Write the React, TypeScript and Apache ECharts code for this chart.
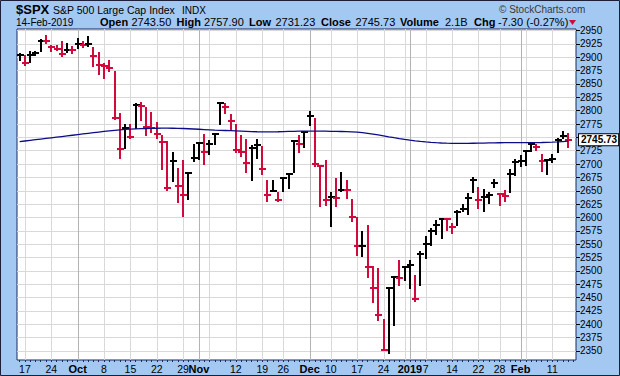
import { useEffect, useRef } from "react";
import * as echarts from "echarts";

const FONT = "'Liberation Sans', Arial, sans-serif";

const dates = [
  "2018-09-14", "2018-09-17", "2018-09-18", "2018-09-19", "2018-09-20", "2018-09-21", "2018-09-24", "2018-09-25", "2018-09-26", "2018-09-27", "2018-09-28",
  "2018-10-01", "2018-10-02", "2018-10-03", "2018-10-04", "2018-10-05", "2018-10-08", "2018-10-09", "2018-10-10", "2018-10-11", "2018-10-12",
  "2018-10-15", "2018-10-16", "2018-10-17", "2018-10-18", "2018-10-19", "2018-10-22", "2018-10-23", "2018-10-24", "2018-10-25", "2018-10-26",
  "2018-10-29", "2018-10-30", "2018-10-31",
  "2018-11-01", "2018-11-02", "2018-11-05", "2018-11-06", "2018-11-07", "2018-11-08", "2018-11-09", "2018-11-12", "2018-11-13", "2018-11-14",
  "2018-11-15", "2018-11-16", "2018-11-19", "2018-11-20", "2018-11-21", "2018-11-23", "2018-11-26", "2018-11-27", "2018-11-28", "2018-11-29", "2018-11-30",
  "2018-12-03", "2018-12-04", "2018-12-06", "2018-12-07", "2018-12-10", "2018-12-11", "2018-12-12", "2018-12-13", "2018-12-14", "2018-12-17",
  "2018-12-18", "2018-12-19", "2018-12-20", "2018-12-21", "2018-12-24", "2018-12-26", "2018-12-27", "2018-12-28", "2018-12-31",
  "2019-01-02", "2019-01-03", "2019-01-04", "2019-01-07", "2019-01-08", "2019-01-09", "2019-01-10", "2019-01-11", "2019-01-14", "2019-01-15",
  "2019-01-16", "2019-01-17", "2019-01-18", "2019-01-22", "2019-01-23", "2019-01-24", "2019-01-25", "2019-01-28", "2019-01-29", "2019-01-30", "2019-01-31",
  "2019-02-01", "2019-02-04", "2019-02-05", "2019-02-06", "2019-02-07", "2019-02-08", "2019-02-11", "2019-02-12", "2019-02-13", "2019-02-14",
];

const highs = [
  2908.3, 2904.65, 2911.17, 2912.36, 2934.8, 2940.91, 2923.79, 2923.95, 2931.15, 2927.22, 2920.53,
  2937.06, 2931.42, 2939.86, 2919.78, 2909.64, 2889.45, 2894.83, 2874.02, 2795.14, 2775.77,
  2775.99, 2813.46, 2816.94, 2806.04, 2797.77, 2778.94, 2753.59, 2742.59, 2722.7, 2692.38,
  2706.85, 2685.43, 2736.69,
  2741.67, 2756.55, 2744.27, 2756.82, 2815.15, 2814.75, 2794.1, 2775.99, 2754.6, 2746.8,
  2735.38, 2746.75, 2733.16, 2669.44, 2670.73, 2647.55, 2674.35, 2682.53, 2744.0, 2753.75, 2760.88,
  2800.18, 2785.93, 2696.15, 2708.54, 2647.51, 2674.35, 2685.44, 2670.19, 2635.07, 2601.13,
  2573.99, 2585.29, 2509.63, 2504.41, 2410.34, 2467.76, 2489.1, 2520.27, 2509.24,
  2519.49, 2493.14, 2538.07, 2566.16, 2579.82, 2595.32, 2597.82, 2596.27, 2589.32, 2613.08,
  2625.76, 2645.06, 2675.47, 2657.88, 2653.19, 2647.2, 2672.38, 2644.97, 2650.93, 2690.44, 2708.95,
  2716.66, 2724.99, 2738.98, 2738.08, 2719.32, 2708.07, 2718.05, 2748.19, 2761.85, 2757.9,
];

const lows = [
  2895.77, 2886.16, 2890.43, 2903.82, 2912.63, 2927.11, 2912.63, 2913.7, 2903.28, 2909.27, 2907.5,
  2917.91, 2919.37, 2921.36, 2883.92, 2869.29, 2862.08, 2874.27, 2784.86, 2710.51, 2729.44,
  2749.03, 2766.91, 2781.81, 2755.18, 2760.27, 2749.22, 2691.43, 2651.89, 2667.84, 2628.16,
  2603.54, 2635.34, 2705.6,
  2708.85, 2700.44, 2717.94, 2737.08, 2774.13, 2794.99, 2764.24, 2722.0, 2714.98, 2685.75,
  2670.75, 2712.16, 2681.09, 2631.52, 2649.82, 2631.09, 2649.97, 2655.89, 2684.38, 2722.94, 2732.76,
  2773.38, 2697.18, 2621.53, 2623.14, 2583.23, 2621.3, 2650.26, 2637.27, 2593.84, 2530.54,
  2528.71, 2488.96, 2441.18, 2408.55, 2351.1, 2346.58, 2397.94, 2472.89, 2482.82,
  2467.47, 2443.96, 2474.33, 2524.56, 2547.56, 2568.89, 2562.02, 2577.4, 2570.41, 2585.1,
  2612.68, 2606.36, 2647.58, 2617.27, 2612.86, 2627.01, 2657.33, 2624.06, 2631.05, 2648.34, 2678.65,
  2696.88, 2698.75, 2724.03, 2726.36, 2687.26, 2681.83, 2703.79, 2722.61, 2748.63, 2731.23,
];

const closes = [
  2904.98, 2888.8, 2904.31, 2907.95, 2930.75, 2929.67, 2919.37, 2915.56, 2905.97, 2914.0, 2913.98,
  2924.59, 2923.43, 2925.51, 2901.61, 2885.57, 2884.43, 2880.34, 2785.68, 2728.37, 2767.13,
  2750.79, 2809.92, 2809.21, 2768.78, 2767.78, 2755.88, 2740.69, 2656.1, 2705.57, 2658.69,
  2641.25, 2682.63, 2711.74,
  2740.37, 2723.06, 2738.31, 2755.45, 2813.89, 2806.83, 2781.01, 2726.22, 2722.18, 2701.58,
  2730.2, 2736.27, 2690.73, 2641.89, 2649.93, 2632.56, 2673.45, 2682.17, 2743.79, 2737.8, 2760.17,
  2790.37, 2700.06, 2695.95, 2633.08, 2637.72, 2636.78, 2651.07, 2650.54, 2599.95, 2545.94,
  2546.16, 2506.96, 2467.42, 2416.62, 2351.1, 2467.7, 2488.83, 2485.74, 2506.85,
  2510.03, 2447.89, 2531.94, 2549.69, 2574.41, 2584.96, 2596.64, 2596.26, 2582.61, 2610.3,
  2616.1, 2635.96, 2670.71, 2632.9, 2638.7, 2642.33, 2664.76, 2643.85, 2640.0, 2681.05, 2704.1,
  2706.53, 2724.87, 2737.7, 2731.61, 2706.05, 2707.88, 2709.8, 2744.73, 2753.03, 2745.73,
];

const ma200 = [
  2742.0, 2743.2, 2744.4, 2745.6, 2746.8, 2748.0, 2749.2, 2750.4, 2751.6, 2752.8, 2754.0,
  2755.2, 2756.4, 2757.6, 2758.8, 2760.0, 2761.1, 2762.2, 2763.2, 2764.1, 2764.8,
  2765.4, 2765.9, 2766.3, 2766.6, 2766.9, 2767.1, 2767.2, 2767.2, 2767.1, 2766.9,
  2766.6, 2766.2, 2765.7,
  2765.2, 2764.7, 2764.2, 2763.7, 2763.3, 2762.9, 2762.5, 2762.1, 2761.7, 2761.3,
  2760.9, 2760.5, 2760.3, 2760.2, 2760.3, 2760.5, 2760.8, 2761.1, 2761.4, 2761.6, 2761.7,
  2761.8, 2761.8, 2761.7, 2761.6, 2761.4, 2761.2, 2761.0, 2760.7, 2760.3, 2759.7,
  2758.8, 2757.6, 2756.2, 2754.6, 2752.9, 2751.1, 2749.4, 2747.8, 2746.3,
  2744.9, 2743.6, 2742.4, 2741.4, 2740.6, 2740.0, 2739.5, 2739.1, 2738.8, 2738.7,
  2738.7, 2738.8, 2739.0, 2739.2, 2739.4, 2739.6, 2739.8, 2739.9, 2740.0, 2740.0, 2740.0,
  2740.0, 2740.0, 2740.1, 2740.2, 2740.4, 2740.7, 2741.1, 2741.6, 2742.2, 2742.8,
];

const priorClose = 2904.18;
const lastOpen = 2743.5;
const lastVolume = "2.1B";

const yTicks = [
  2350, 2375, 2400, 2425, 2450, 2475, 2500, 2525, 2550, 2575, 2600, 2625, 2650,
  2675, 2700, 2725, 2750, 2775, 2800, 2825, 2850, 2875, 2900, 2925, 2950,
];

const weekStarts = [
  "2018-09-17", "2018-09-24", "2018-10-01", "2018-10-08", "2018-10-15", "2018-10-22", "2018-10-29",
  "2018-11-05", "2018-11-12", "2018-11-19", "2018-11-26", "2018-12-03", "2018-12-10", "2018-12-17",
  "2018-12-24", "2018-12-31", "2019-01-07", "2019-01-14", "2019-01-22", "2019-01-28", "2019-02-04", "2019-02-11",
];
const monthStarts = ["2018-10-01", "2018-11-01", "2018-12-03", "2019-01-02", "2019-02-01"];

const labelDates = [
  "2018-09-17", "2018-09-24", "2018-10-01", "2018-10-08", "2018-10-15", "2018-10-22", "2018-10-29", "2018-11-01",
  "2018-11-12", "2018-11-19", "2018-11-26", "2018-12-03", "2018-12-10", "2018-12-17", "2018-12-24", "2019-01-02",
  "2019-01-07", "2019-01-14", "2019-01-22", "2019-01-28", "2019-02-01", "2019-02-11",
];
const labelTexts = [
  "17", "24", "Oct", "8", "15", "22", "29", "Nov", "12", "19", "26", "Dec", "10", "17", "24", "2019",
  "7", "14", "22", "28", "Feb", "11",
];
const monthLabels = ["Oct", "Nov", "Dec", "2019", "Feb"];

const RED = "#d20a3b";

export default function App() {
  const ref = useRef<HTMLDivElement>(null);

  useEffect(() => {
    if (!ref.current) return;
    const chart = echarts.init(ref.current, undefined, { renderer: "svg" });

    const categories = dates.concat([""]);
    const ohlc = dates.map((d, i) => {
      const prev = i === 0 ? priorClose : closes[i - 1];
      return [i, lows[i], highs[i], closes[i], closes[i] >= prev ? 1 : 0];
    });
    const vGrid = [
      ...weekStarts.map((d) => [dates.indexOf(d), 0]),
      ...monthStarts.map((d) => [dates.indexOf(d), 1]),
    ];
    const labelIndex: Record<number, string> = {};
    labelDates.forEach((d, k) => {
      labelIndex[dates.indexOf(d)] = labelTexts[k];
    });

    const n = closes.length;
    const lastClose = closes[n - 1];
    const lastHigh = highs[n - 1];
    const lastLow = lows[n - 1];
    const chg = lastClose - closes[n - 2];
    const pct = (chg / closes[n - 2]) * 100;
    // labels hidden behind the last-price box
    const yLabelValues = yTicks.filter((v) => Math.abs(v - lastClose) >= 12.5);

    const txt = (x: number, y: number, text: string, size: number, bold = false, fill = "#000") => ({
      type: "text",
      x,
      y,
      silent: true,
      style: {
        text,
        fill,
        fontSize: size,
        fontWeight: bold ? "bold" : "normal",
        fontFamily: FONT,
        verticalAlign: "middle",
        align: "left",
      },
    });

    const option: any = {
      animation: false,
      backgroundColor: "#a3c8f2",
      grid: {
        left: 17,
        right: 44,
        top: 29,
        bottom: 16,
        show: true,
        backgroundColor: "#ffffff",
        borderColor: "#1c2a5c",
        borderWidth: 1,
      },
      xAxis: {
        type: "category",
        data: categories,
        boundaryGap: true,
        axisLine: { show: false },
        axisTick: {
          show: true,
          interval: 0,
          alignWithLabel: true,
          length: 2,
          lineStyle: { color: "#1c2a5c", width: 1 },
        },
        axisLabel: {
          interval: (i: number) => labelIndex[i] !== undefined,
          formatter: (_v: string, i: number) => {
            const t = labelIndex[i];
            if (t === undefined) return "";
            return monthLabels.includes(t) ? `{b|${t}}` : t;
          },
          margin: 3,
          color: "#000",
          fontSize: 10.5,
          fontFamily: FONT,
          rich: { b: { fontWeight: "bold", fontSize: 11, fontFamily: FONT, color: "#000" } },
        },
        splitLine: { show: false },
      },
      yAxis: {
        type: "value",
        position: "right",
        min: 2333,
        max: 2953,
        axisLine: { show: false },
        axisTick: {
          show: true,
          length: 4,
          customValues: yTicks,
          lineStyle: { color: "#000" },
        },
        axisLabel: {
          customValues: yLabelValues,
          formatter: (v: number) => String(Math.round(v)),
          margin: 4,
          color: "#000",
          fontSize: 10,
          fontFamily: FONT,
        },
        splitLine: { show: true, lineStyle: { color: "#d9d9d9", width: 1 } },
      },
      series: [
        {
          type: "custom",
          name: "vgrid",
          z: 1,
          silent: true,
          data: vGrid,
          encode: { x: 0 },
          renderItem: (params: any, api: any) => {
            const p = api.coord([api.value(0), 2600]);
            const cs = params.coordSys;
            const x = Math.round(p[0]) + 0.5;
            return {
              type: "line",
              shape: { x1: x, y1: cs.y, x2: x, y2: cs.y + cs.height },
              style: { stroke: api.value(1) ? "#b3b3b3" : "#d9d9d9", lineWidth: 1 },
            };
          },
        },
        {
          type: "custom",
          name: "$SPX",
          z: 3,
          silent: true,
          data: ohlc,
          encode: { x: 0, y: [1, 2, 3] },
          renderItem: (_params: any, api: any) => {
            const i = api.value(0);
            const lo = api.coord([i, api.value(1)]);
            const hi = api.coord([i, api.value(2)]);
            const cl = api.coord([i, api.value(3)]);
            const color = api.value(4) ? "#000000" : RED;
            const cx = Math.round(lo[0]);
            const yTop = Math.round(hi[1]);
            const yBot = Math.max(Math.round(lo[1]), yTop + 1);
            const yc = Math.round(cl[1]);
            return {
              type: "group",
              children: [
                { type: "rect", shape: { x: cx - 1, y: yTop, width: 2, height: yBot - yTop + 1 }, style: { fill: color } },
                { type: "rect", shape: { x: cx - 3, y: yc - 1, width: 7, height: 2 }, style: { fill: color } },
              ],
            };
          },
          markLine: {
            silent: true,
            symbol: "none",
            animation: false,
            lineStyle: { width: 0, color: "rgba(0,0,0,0)" },
            label: {
              show: true,
              position: "end",
              distance: 3,
              formatter: lastClose.toFixed(2),
              backgroundColor: "#ffffff",
              borderColor: "#000000",
              borderWidth: 1,
              padding: [1, 1, 0, 2],
              color: "#000",
              fontWeight: "bold",
              fontSize: 10,
              fontFamily: FONT,
            },
            data: [{ yAxis: lastClose }],
          },
        },
        {
          type: "line",
          name: "MA(200)",
          z: 4,
          silent: true,
          data: ma200,
          symbol: "none",
          lineStyle: { color: "#0c0c88", width: 1.3 },
        },
      ],
      graphic: [
        txt(16, 9, "$SPX", 13, true),
        txt(53, 10, "S&P 500 Large Cap Index", 10.5),
        txt(182, 10, "INDX", 10),
        txt(499, 9, "\u00A9 StockCharts.com", 10, false, "#3a3a3a"),
        txt(16, 22, "14-Feb-2019", 10),
        txt(100, 22, "Open", 11, true),
        txt(131.5, 22, lastOpen.toFixed(2), 11),
        txt(176.5, 22, "High", 11, true),
        txt(204, 22, lastHigh.toFixed(2), 11),
        txt(249, 22, "Low", 11, true),
        txt(275.5, 22, lastLow.toFixed(2), 11),
        txt(321, 22, "Close", 11, true),
        txt(355.5, 22, lastClose.toFixed(2), 11),
        txt(400, 22, "Volume", 11, true),
        txt(445, 22, lastVolume, 11),
        txt(474, 22, "Chg", 11, true),
        txt(498, 22, `${chg.toFixed(2)} (${pct.toFixed(2)}%)`, 11),
        {
          type: "polygon",
          silent: true,
          shape: { points: [[569, 20], [576, 20], [572.5, 25]] },
          style: { fill: RED },
        },
        {
          type: "rect",
          silent: true,
          z: 100,
          shape: { x: 0.5, y: 0.5, width: 619, height: 375 },
          style: { fill: "none", stroke: "#1b1f3a", lineWidth: 1 },
        },
      ],
    };

    chart.setOption(option);
    return () => chart.dispose();
  }, []);

  return (
    <div
      ref={ref}
      style={{ position: "fixed", left: 0, top: 0, width: 620, height: 376 }}
    />
  );
}
